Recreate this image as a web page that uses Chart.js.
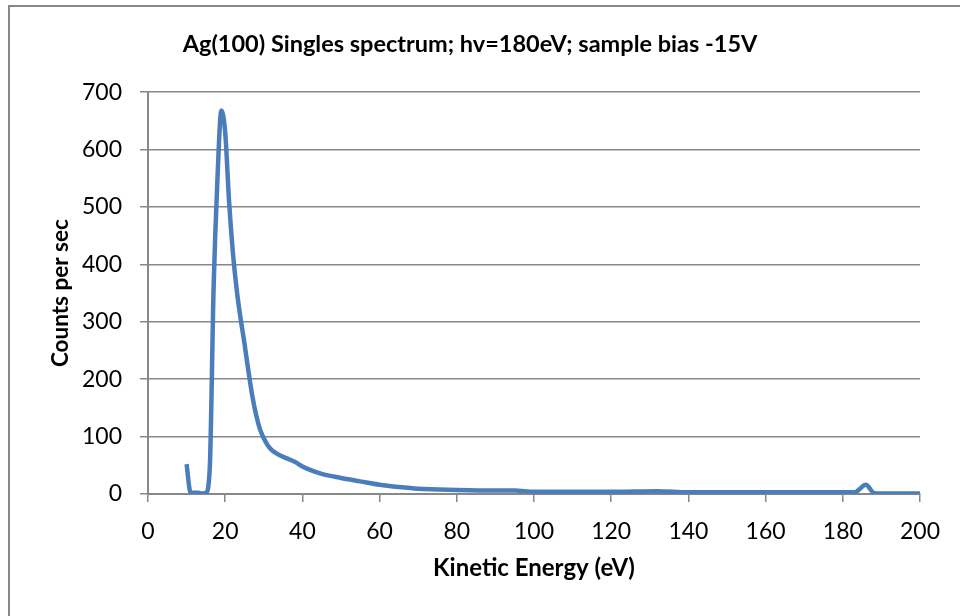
<!DOCTYPE html>
<html>
<head>
<meta charset="utf-8">
<script src="https://cdn.jsdelivr.net/npm/chart.js@4/dist/chart.umd.min.js"></script>
<style>
    body { margin: 0; background: #fff; }
    #wrap { position: relative; width: 960px; height: 616px; overflow: hidden; }
    #frame { position: absolute; left: 8px; top: 5px; width: 1000px; height: 700px; border: 2px solid #888; }
    canvas { position: absolute; left: 0; top: 0; }
</style>
</head>
<body>
<div id="wrap">
    <div id="frame"></div>
    <canvas id="chart" width="960" height="616"></canvas>
</div>
<script>
// Spectrum data
const energies = [10, 11, 12, 13, 14, 15, 16, 17, 18, 19, 20, 21, 22, 23, 24, 25, 26, 27, 28, 29,
    30, 31, 32, 33, 34, 36, 38, 40, 42, 45, 50, 55, 60, 65, 70, 80, 90, 95, 100, 110,
    120, 132, 140, 150, 160, 170, 180, 183, 186, 188, 190, 200];
const counts = [52, 3, 2, 2, 1, 2, 45, 360, 550, 668, 630, 510, 420, 355, 305, 262, 215, 172, 138, 113,
    97, 85, 77, 72, 68, 62, 56, 48, 42, 35, 28, 22, 16, 12, 9, 7, 6, 6, 4, 4,
    4, 5, 3, 3, 3, 3, 3, 3, 16, 2, 1, 1];
const xTicks = [0, 20, 40, 60, 80, 100, 120, 140, 160, 180, 200];
const yTicks = [0, 100, 200, 300, 400, 500, 600, 700];

const chartTitle = 'Ag(100) Singles spectrum; hv=180eV; sample bias -15V';
const xTitle = 'Kinetic Energy (eV)';
const yTitle = 'Counts per sec';

const points = energies.map(function(e, i) {
    return { x: e, y: counts[i] };
});

const gridColor = '#888888';
const fontFamily = 'Lato, "Liberation Sans", sans-serif';

new Chart(document.getElementById('chart'), {
    type: 'line',
    data: {
        datasets: [{
            data: points,
            borderColor: '#4a7ebb',
            borderWidth: 4.5,
            pointRadius: 0,
            cubicInterpolationMode: 'monotone',
            fill: false
        }]
    },
    options: {
        responsive: false,
        animation: false,
        layout: { padding: { left: 20, right: 40, top: 0, bottom: 0 } },
        plugins: {
            legend: { display: false },
            tooltip: { enabled: false },
            title: {
                display: true,
                text: chartTitle,
                color: '#000',
                font: { family: fontFamily, size: 23.5, weight: 'bold' },
                padding: { top: 30, bottom: 34 }
            }
        },
        scales: {
            x: {
                type: 'linear',
                min: 0,
                max: 200,
                afterBuildTicks: function(scale) {
                    scale.ticks = xTicks.map(function(v) { return { value: v }; });
                },
                afterFit: function(scale) { scale.height = 122; },
                grid: {
                    display: true,
                    drawOnChartArea: false,
                    color: gridColor,
                    lineWidth: 1.5,
                    tickLength: 8
                },
                border: { color: gridColor, width: 2 },
                ticks: {
                    color: '#000',
                    font: { family: fontFamily, size: 23 },
                    padding: 16,
                    maxRotation: 0
                },
                title: {
                    display: true,
                    text: xTitle,
                    color: '#000',
                    font: { family: fontFamily, size: 24, weight: 'bold' },
                    padding: { top: 4, bottom: 33 }
                }
            },
            y: {
                min: 0,
                max: 700,
                afterBuildTicks: function(scale) {
                    scale.ticks = yTicks.map(function(v) { return { value: v }; });
                },
                afterFit: function(scale) { scale.width = 128; },
                grid: {
                    color: gridColor,
                    lineWidth: 1.5,
                    tickLength: 8
                },
                border: { color: gridColor, width: 2 },
                ticks: {
                    color: '#000',
                    font: { family: fontFamily, size: 23 },
                    padding: 18
                },
                title: {
                    display: true,
                    text: yTitle,
                    color: '#000',
                    font: { family: fontFamily, size: 22.5, weight: 'bold' },
                    padding: { top: 27, bottom: 0 }
                }
            }
        }
    }
});
</script>
</body>
</html>
